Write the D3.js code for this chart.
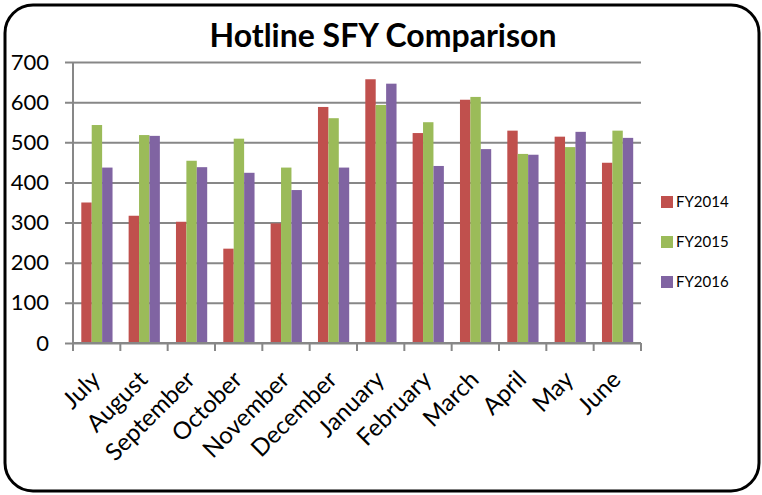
<!DOCTYPE html>
<html>
<head>
<meta charset="utf-8">
<script src="https://cdn.jsdelivr.net/npm/d3@7"></script>
<style>
  html, body { margin: 0; padding: 0; background: #fff; }
  svg { display: block; font-family: Lato, "Open Sans", sans-serif; }
</style>
</head>
<body>
<div id="root"></div>
<script>
const months = ["July", "August", "September", "October", "November", "December",
  "January", "February", "March", "April", "May", "June"];
const seriesNames = ["FY2014", "FY2015", "FY2016"];
const fy2014 = [350, 317, 302, 235, 298, 588, 657, 523, 606, 529, 514, 449];
const fy2015 = [543, 518, 454, 509, 437, 560, 593, 550, 613, 471, 488, 529];
const fy2016 = [437, 516, 438, 424, 381, 437, 646, 441, 483, 469, 526, 511];
const yTicks = [0, 100, 200, 300, 400, 500, 600, 700];
const colors = ["#C0504D", "#9BBB59", "#8064A2"];

const width = 762, height = 495;
const margin = { left: 73, top: 62, right: 121, bottom: 152 };
const innerW = width - margin.left - margin.right;
const innerH = height - margin.top - margin.bottom;

const allSeries = [fy2014, fy2015, fy2016];
const table = months.map((m, i) => ({ month: m, values: allSeries.map((s, k) => ({ key: seriesNames[k], value: s[i], k })) }));

const svg = d3.select("#root").append("svg")
  .attr("width", width)
  .attr("height", height);

// rounded frame
svg.append("rect")
  .attr("x", 5).attr("y", 5)
  .attr("width", 754).attr("height", 486)
  .attr("rx", 28).attr("ry", 28)
  .attr("fill", "#fff")
  .attr("stroke", "#000")
  .attr("stroke-width", 3);

svg.append("text")
  .attr("x", 383).attr("y", 47)
  .attr("text-anchor", "middle")
  .attr("font-weight", "bold")
  .attr("font-size", 32)
  .text("Hotline SFY Comparison");

const g = svg.append("g").attr("transform", `translate(${margin.left},${margin.top})`);

const x0 = d3.scaleBand().domain(months).range([0, innerW]).paddingInner(0).paddingOuter(0);
const x1 = d3.scaleBand().domain(seriesNames).range([8.3, x0.bandwidth() - 7.8]);
const y = d3.scaleLinear().domain([0, 700]).range([innerH, 0]);

// gridlines + y axis
g.append("g")
  .attr("class", "yAxis")
  .call(d3.axisLeft(y).tickValues(yTicks).tickSize(8).tickSizeOuter(0).tickFormat(d3.format("d")))
  .call(a => a.select(".domain").remove())
  .call(a => a.selectAll(".tick line").attr("x2", innerW).attr("x1", -8).attr("stroke", "#878787").attr("stroke-width", 2))
  .call(a => a.selectAll(".tick text").attr("x", -24).attr("font-size", 22).attr("fill", "#000").attr("font-family", "Lato, sans-serif"));

// bars
const groups = g.append("g").attr("class", "content")
  .selectAll("g").data(table).join("g")
  .attr("transform", d => `translate(${x0(d.month)},0)`);

groups.selectAll("rect").data(d => d.values).join("rect")
  .attr("x", d => x1(d.key))
  .attr("y", d => y(d.value))
  .attr("width", x1.bandwidth())
  .attr("height", d => innerH - y(d.value))
  .attr("fill", d => colors[d.k]);

// x axis with ticks at category boundaries
const xb = g.append("g").attr("transform", `translate(0,${innerH})`);
xb.append("line").attr("x1", 0).attr("x2", innerW).attr("stroke", "#878787").attr("stroke-width", 2);
xb.append("line").attr("x1", 0).attr("x2", 0).attr("y1", -innerH).attr("y2", 0).attr("stroke", "#878787").attr("stroke-width", 2);
xb.selectAll("line.tk").data(d3.range(months.length + 1)).join("line")
  .attr("class", "tk")
  .attr("x1", i => i * x0.step()).attr("x2", i => i * x0.step())
  .attr("y1", 0).attr("y2", 8)
  .attr("stroke", "#878787").attr("stroke-width", 2);

xb.selectAll("text").data(months).join("text")
  .attr("transform", d => `translate(${x0(d) + x0.bandwidth() / 2 + 5},${38}) rotate(-45)`)
  .attr("text-anchor", "end")
  .attr("font-size", 24)
  .text(d => d);

// legend
const legend = svg.append("g").attr("transform", "translate(661,202)");
const li = legend.selectAll("g").data(seriesNames).join("g")
  .attr("transform", (d, i) => `translate(0,${i * 40})`);
li.append("rect").attr("x", 0).attr("y", -6).attr("width", 12).attr("height", 12).attr("fill", (d, i) => colors[i]);
li.append("text").attr("x", 15).attr("y", 0).attr("dy", "0.35em").attr("font-size", 15).text(d => d);
</script>
</body>
</html>
